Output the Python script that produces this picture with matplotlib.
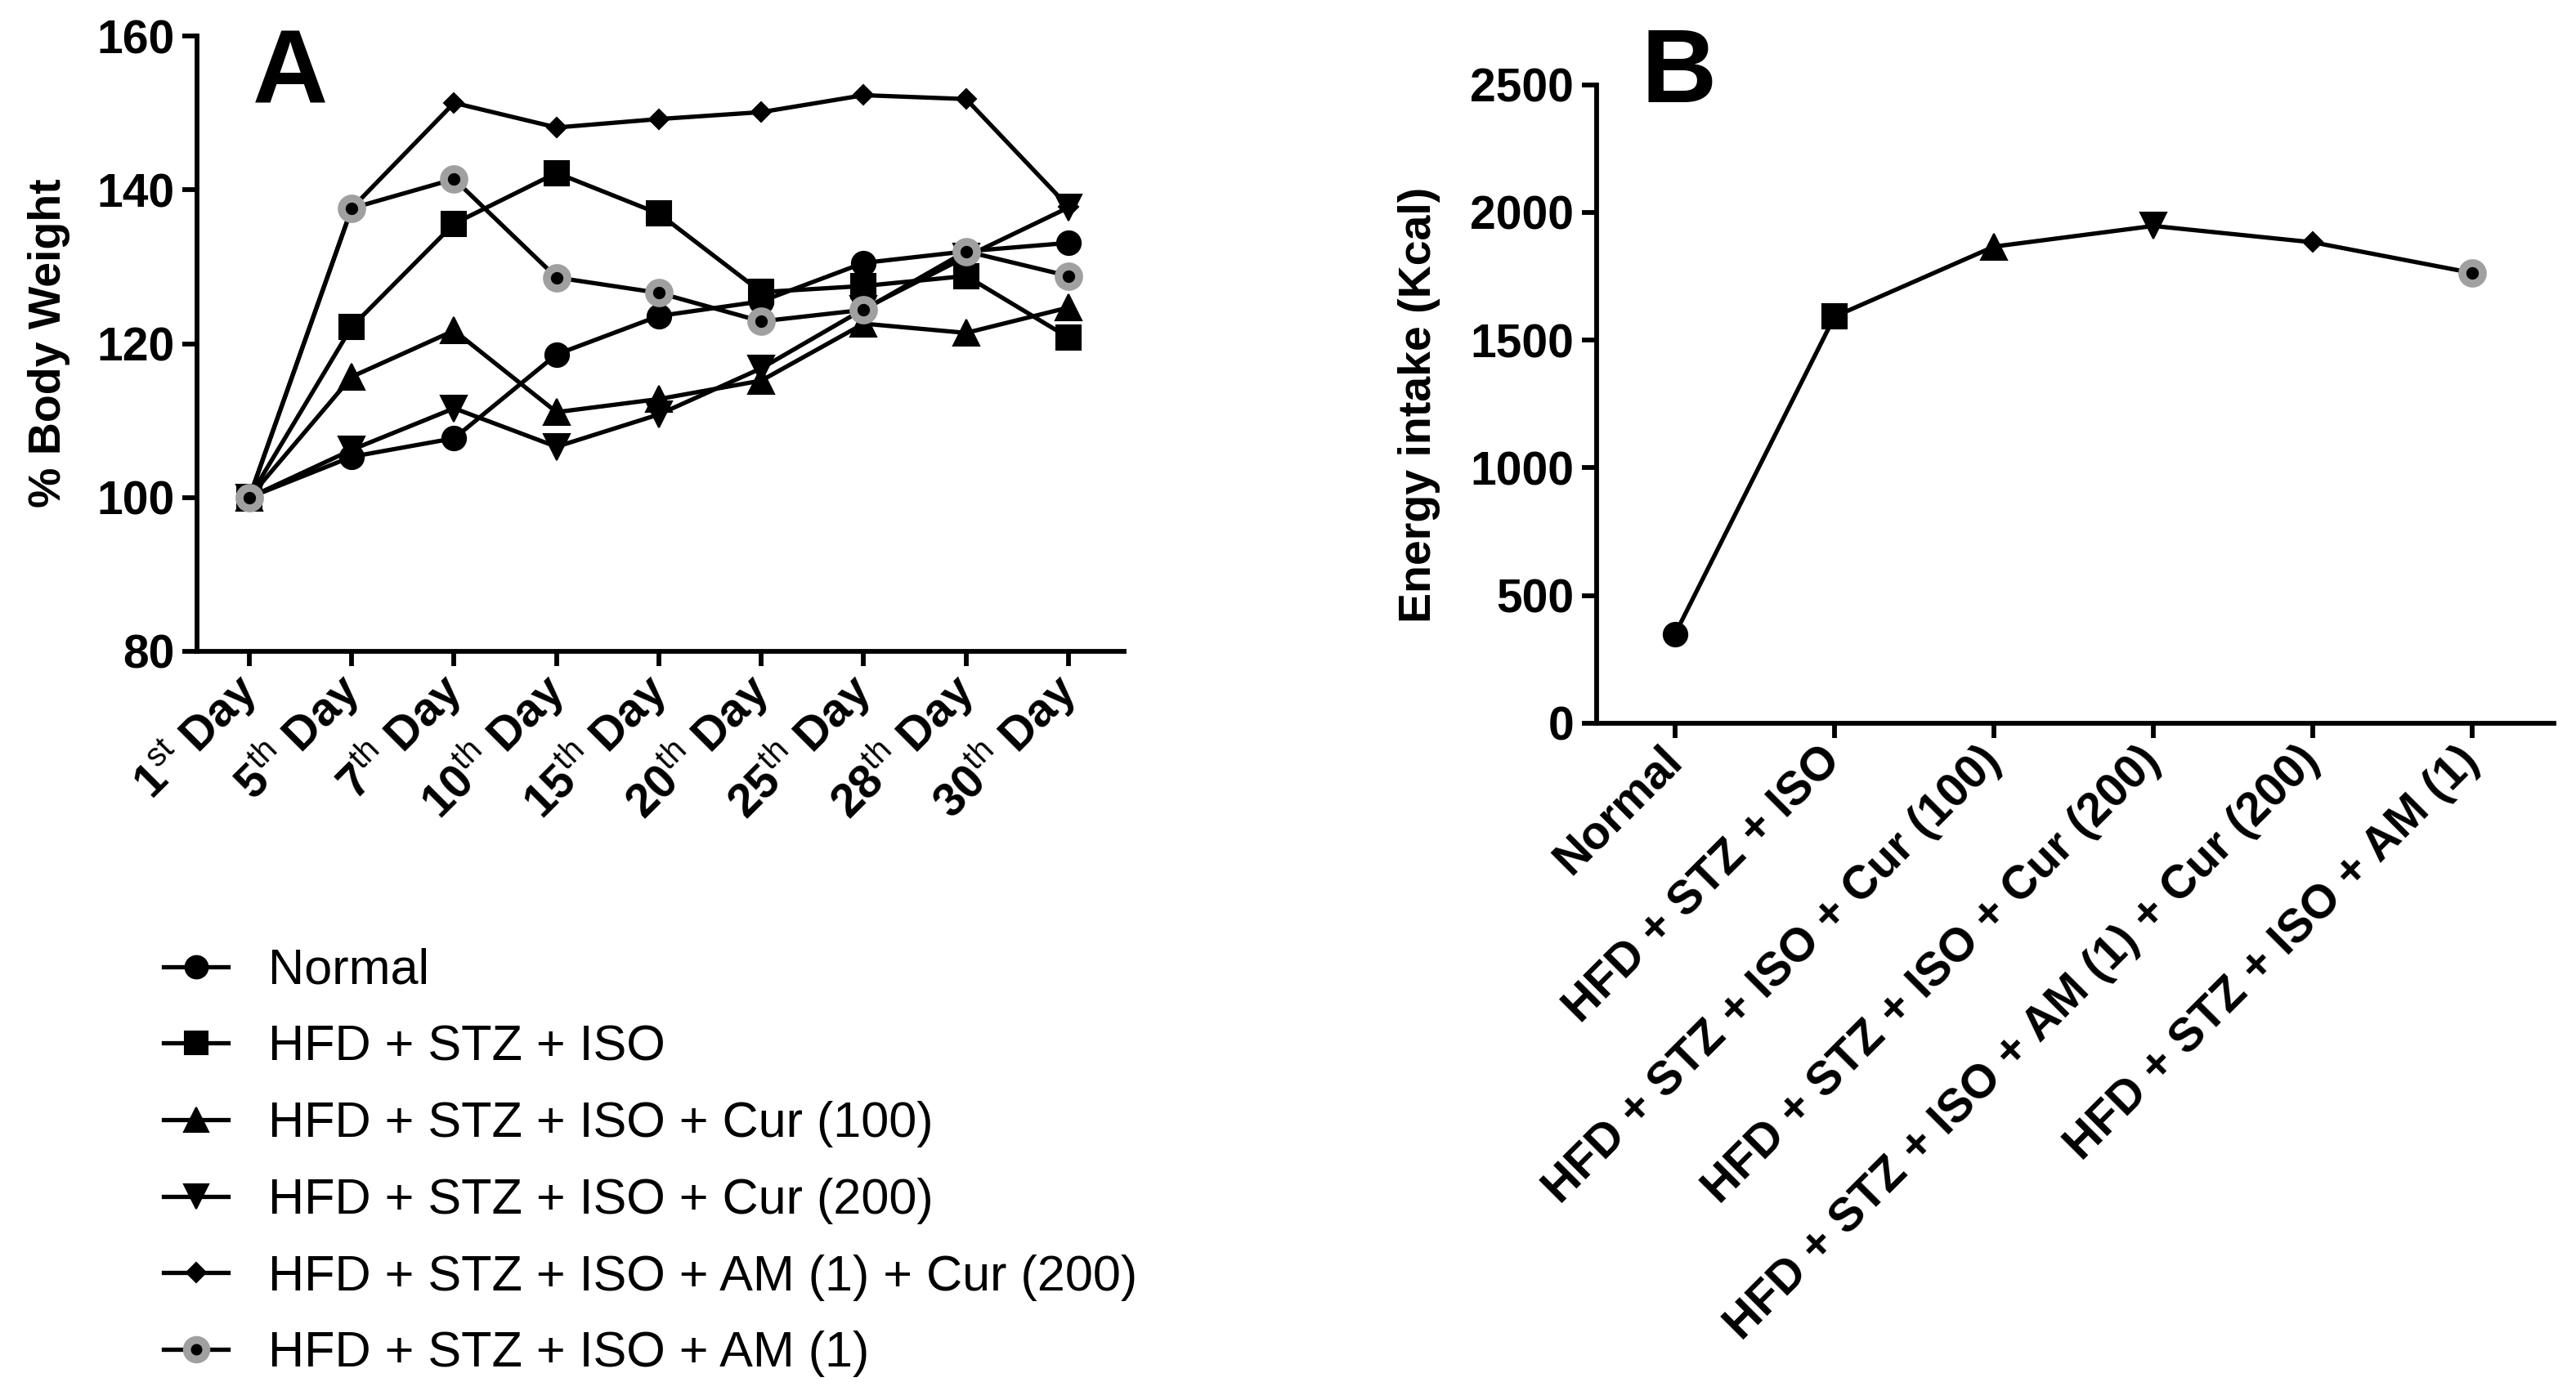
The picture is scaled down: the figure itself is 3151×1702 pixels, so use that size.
import matplotlib
matplotlib.use('Agg')
import matplotlib.pyplot as plt

plt.rcParams['font.family'] = ['Liberation Sans', 'DejaVu Sans']
plt.rcParams['mathtext.fontset'] = 'custom'
plt.rcParams['mathtext.rm'] = 'Liberation Sans'
plt.rcParams['mathtext.bf'] = 'Liberation Sans:bold'

# ---------------- data ----------------
day_labels = ['1$^{\\mathrm{st}}$ Day', '5$^{\\mathrm{th}}$ Day', '7$^{\\mathrm{th}}$ Day',
              '10$^{\\mathrm{th}}$ Day', '15$^{\\mathrm{th}}$ Day', '20$^{\\mathrm{th}}$ Day',
              '25$^{\\mathrm{th}}$ Day', '28$^{\\mathrm{th}}$ Day', '30$^{\\mathrm{th}}$ Day']

group_names = ['Normal',
               'HFD + STZ + ISO',
               'HFD + STZ + ISO + Cur (100)',
               'HFD + STZ + ISO + Cur (200)',
               'HFD + STZ + ISO + AM (1) + Cur (200)',
               'HFD + STZ + ISO + AM (1)']

bw_normal = [100, 105.3, 107.7, 118.6, 123.6, 125.5, 130.5, 132.0, 133.1]
bw_hfd = [100, 122.2, 135.6, 142.2, 136.9, 126.7, 127.5, 128.8, 120.8]
bw_cur100 = [100, 115.7, 121.7, 111.1, 112.8, 115.2, 122.6, 121.4, 124.7]
bw_cur200 = [100, 106.2, 111.6, 106.6, 110.8, 116.8, 124.5, 131.3, 137.7]
bw_am_cur200 = [100, 137.6, 151.3, 148.1, 149.2, 150.1, 152.3, 151.8, 137.8]
bw_am = [100, 137.6, 141.4, 128.6, 126.6, 122.9, 124.4, 132.0, 128.8]

energy_intake = [349, 1592, 1866, 1947, 1883, 1763]

# ---------------- styles ----------------
GREY = '#a0a0a0'
styles = [
    dict(marker='o', ms=21, mfc='black', mec='black', mew=1.5),
    dict(marker='s', ms=21, mfc='black', mec='black', mew=1.5),
    dict(marker='^', ms=23, mfc='black', mec='black', mew=1.5),
    dict(marker='v', ms=23, mfc='black', mec='black', mew=1.5),
    dict(marker='D', ms=12.5, mfc='black', mec='black', mew=1.5),
    dict(marker='o', ms=18, mfc='black', mec=GREY, mew=7),
]
series = [bw_normal, bw_hfd, bw_cur100, bw_cur200, bw_am_cur200, bw_am]

W, H = 3151, 1702
fig = plt.figure(figsize=(W / 100, H / 100), dpi=100)

AXLW = 4.2
LINELW = 3.8
TICKFS = 41


def style_axes(ax):
    for s in ['top', 'right']:
        ax.spines[s].set_visible(False)
    for s in ['left', 'bottom']:
        ax.spines[s].set_linewidth(AXLW)
    ax.tick_params(axis='both', direction='out', length=13, width=AXLW,
                   labelsize=TICKFS, pad=7)
    for lab in ax.get_yticklabels():
        lab.set_fontweight('bold')


def fx(px):
    return px / W


def fy(py):
    return 1 - py / H


# ---------------- panel A ----------------
axA = fig.add_axes([fx(241), fy(797), fx(1375) - fx(241), fy(44) - fy(797)])
xs = list(range(len(day_labels)))
for name, vals, st in zip(group_names, series, styles):
    axA.plot(xs, vals, color='black', lw=LINELW, label=name, **st)
axA.set_ylim(80, 160)
axA.set_yticks([80, 100, 120, 140, 160])
axA.set_xlim(-0.511, 8.543)
axA.set_xticks(xs)
axA.set_xticklabels(day_labels, rotation=45, ha='right', va='center',
                    rotation_mode='anchor', fontweight='bold')
axA.spines['left'].set_bounds(80, 160)
style_axes(axA)
axA.tick_params(axis='x', pad=14)
fig.text(fx(60), fy(420), '% Body Weight', rotation=90, ha='center', va='center',
         fontsize=40, fontweight='bold')
fig.text(fx(309), fy(126), 'A', fontsize=92, fontweight='bold', ha='left', va='baseline')

handles, labels = axA.get_legend_handles_labels()
fig.legend(handles, labels, loc='upper left', bbox_to_anchor=(fx(200), fy(1160)),
           frameon=False, fontsize=44, handlelength=1.3, handletextpad=0.8,
           labelspacing=0.6, borderpad=0, borderaxespad=0, markerscale=0.95)

# ---------------- panel B ----------------
axB = fig.add_axes([fx(1953), fy(885), fx(3124) - fx(1953), fy(103.6) - fy(885)])
xb = list(range(len(group_names)))
axB.plot(xb, energy_intake, color='black', lw=LINELW, zorder=2)
for i, (v, st) in enumerate(zip(energy_intake, styles)):
    axB.plot([xb[i]], [v], color='black', lw=0, zorder=3, **st)
axB.set_ylim(0, 2500)
axB.set_yticks([0, 500, 1000, 1500, 2000, 2500])
axB.set_xlim(-0.492, 5.513)
axB.set_xticks(xb)
axB.set_xticklabels(group_names, rotation=45, ha='right', va='center',
                    rotation_mode='anchor', fontweight='bold')
style_axes(axB)
axB.tick_params(axis='x', pad=14)
fig.text(fx(1736), fy(495), 'Energy intake (Kcal)', rotation=90, ha='center', va='center',
         fontsize=40, fontweight='bold')
fig.text(fx(2007), fy(125), 'B', fontsize=92, fontweight='bold', ha='left', va='baseline')

fig.savefig('out.png', dpi=100)
